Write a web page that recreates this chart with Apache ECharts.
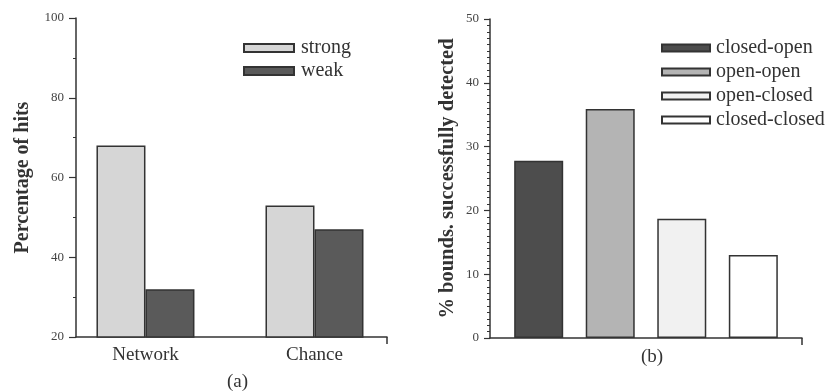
<!DOCTYPE html>
<html>
<head>
<meta charset="utf-8">
<script src="https://cdn.jsdelivr.net/npm/echarts@6/dist/echarts.min.js"></script>
<style>
  html, body { margin: 0; padding: 0; background: #fff; }
  #chart { width: 826px; height: 391px; }
</style>
</head>
<body>
<div id="chart"></div>
<script>
// (a) percentage of hits
const grupos = ['Network', 'Chance'];
const posGrupos = [0, 1];
const strong = [68, 53];
const weak = [32, 47];

// (b) % bounds successfully detected
const tipos = ['closed-open', 'open-open', 'open-closed', 'closed-closed'];
const detectados = [27.8, 35.9, 18.7, 13.0];
const coloresB = ['#4d4d4d', '#b4b4b4', '#f1f1f1', '#ffffff'];

const fuente = "'Liberation Serif', 'DejaVu Serif', serif";
const borde = '#333';

const chart = echarts.init(document.getElementById('chart'));

const ejeTexto = { fontFamily: fuente, color: '#444', fontSize: 13 };

const seriesB = tipos.map((t, i) => ({
  name: t,
  type: 'bar',
  xAxisIndex: 1,
  yAxisIndex: 1,
  barWidth: 49,
  barGap: '46%',
  itemStyle: { color: coloresB[i], borderColor: borde, borderWidth: 1.5 },
  data: [[0.5, detectados[i]]]
}));

const option = {
  animation: false,
  title: [
    { text: '(a)', left: 222, top: 368, textStyle: { fontFamily: fuente, fontSize: 19, fontWeight: 'normal', color: '#333' } },
    { text: '(b)', left: 636, top: 343, textStyle: { fontFamily: fuente, fontSize: 19, fontWeight: 'normal', color: '#333' } }
  ],
  legend: [
    {
      data: ['strong', 'weak'],
      orient: 'vertical',
      left: 243, top: 38, padding: 0,
      itemWidth: 50, itemHeight: 8, itemGap: 3,
      icon: 'rect',
      textStyle: { fontFamily: fuente, fontSize: 20, color: '#333', lineHeight: 20, padding: [0, 0, 0, 2] }
    },
    {
      data: tipos,
      orient: 'vertical',
      left: 661, top: 38, padding: 0,
      itemWidth: 48, itemHeight: 7, itemGap: 4,
      icon: 'rect',
      textStyle: { fontFamily: fuente, fontSize: 20, color: '#333', lineHeight: 20, padding: [0, 0, 0, 1] }
    }
  ],
  grid: [
    { left: 76, top: 18, right: 439, bottom: 54 },
    { left: 490, top: 19, right: 24, bottom: 53 }
  ],
  xAxis: [
    {
      type: 'value', gridIndex: 0,
      min: -0.411, max: 1.429,
      splitLine: { show: false },
      axisLine: { show: true, onZero: false, lineStyle: { color: borde, width: 1.5 } },
      axisTick: { show: true, customValues: [1.429], length: 7, lineStyle: { color: borde, width: 1.5 } },
      axisLabel: {
        customValues: posGrupos,
        formatter: v => grupos[Math.round(v)],
        fontFamily: fuente, fontSize: 19, color: '#333', margin: 9
      }
    },
    {
      type: 'value', gridIndex: 1,
      min: 0, max: 1,
      splitLine: { show: false },
      axisLine: { show: true, onZero: false, lineStyle: { color: borde, width: 1.5 } },
      axisTick: { show: true, customValues: [1], length: 7, lineStyle: { color: borde, width: 1.5 } },
      axisLabel: { show: false }
    }
  ],
  yAxis: [
    {
      type: 'value', gridIndex: 0,
      min: 20, max: 100, interval: 20,
      name: 'Percentage of hits',
      nameLocation: 'middle', nameGap: 43,
      nameTextStyle: { fontFamily: fuente, fontSize: 20, fontWeight: 'bold', color: '#333' },
      splitLine: { show: false },
      axisLine: { show: true, onZero: false, lineStyle: { color: borde, width: 1.5 } },
      axisTick: { show: true, length: 7, lineStyle: { color: borde, width: 1.2 } },
      minorTick: { show: true, splitNumber: 2, length: 3, lineStyle: { color: borde } },
      axisLabel: Object.assign({ margin: 12 }, ejeTexto)
    },
    {
      type: 'value', gridIndex: 1,
      min: 0, max: 50, interval: 10,
      name: '% bounds. successfully detected',
      nameLocation: 'middle', nameGap: 32,
      nameTextStyle: { fontFamily: fuente, fontSize: 20.5, fontWeight: 'bold', color: '#333' },
      splitLine: { show: false },
      axisLine: { show: true, onZero: false, lineStyle: { color: borde, width: 1.5 } },
      axisTick: { show: true, length: 6, lineStyle: { color: borde, width: 1.2 } },
      minorTick: { show: true, splitNumber: 10, length: 3, lineStyle: { color: borde } },
      axisLabel: Object.assign({ margin: 11 }, ejeTexto)
    }
  ],
  series: [
    {
      name: 'strong', type: 'bar',
      xAxisIndex: 0, yAxisIndex: 0,
      barWidth: 49, barGap: '0%',
      itemStyle: { color: '#d6d6d6', borderColor: borde, borderWidth: 1.5 },
      data: posGrupos.map((x, i) => [x, strong[i]])
    },
    {
      name: 'weak', type: 'bar',
      xAxisIndex: 0, yAxisIndex: 0,
      barWidth: 49, barGap: '0%',
      itemStyle: { color: '#5a5a5a', borderColor: borde, borderWidth: 1.5 },
      data: posGrupos.map((x, i) => [x, weak[i]])
    }
  ].concat(seriesB)
};

chart.setOption(option);
</script>
</body>
</html>
